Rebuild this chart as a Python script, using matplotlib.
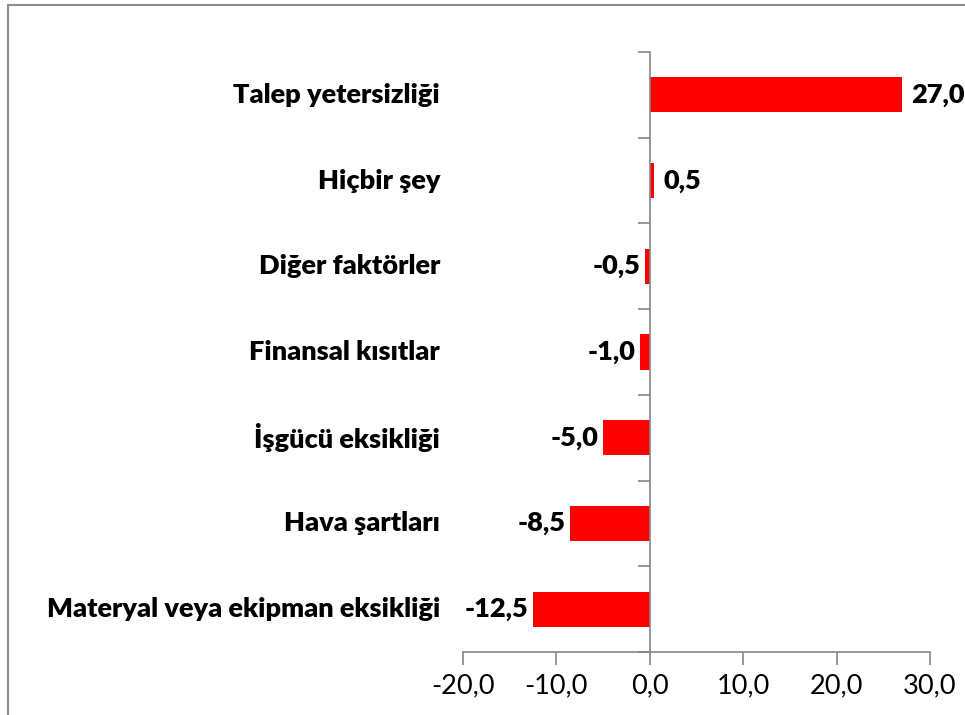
import numpy as np
import matplotlib
matplotlib.use('Agg')
import matplotlib.pyplot as plt
import matplotlib.transforms as mtransforms
from matplotlib.patches import Rectangle

plt.rcParams['font.family'] = ['Lato', 'DejaVu Sans']

categories = ['Talep yetersizliği', 'Hiçbir şey', 'Diğer faktörler',
              'Finansal kısıtlar', 'İşgücü eksikliği', 'Hava şartları',
              'Materyal veya ekipman eksikliği']
values = [27.0, 0.5, -0.5, -1.0, -5.0, -8.5, -12.5]
xticks = [-20, -10, 0, 10, 20, 30]

W, H = 965, 715
fig = plt.figure(figsize=(W / 100, H / 100), dpi=100)
ax = fig.add_axes([463 / W, 1 - 652 / H, (930 - 463) / W, 600 / H])

# outer chart border (runs off the right and bottom edges)
fig.patches.append(Rectangle((8 / W, -0.05), 1.2, 1 - 5 / H + 0.05,
                             transform=fig.transFigure, fill=False,
                             ec='#8c8c8c', lw=1.5))

n = len(categories)
y = np.arange(n)[::-1]
ax.barh(y, values, height=0.41, color='#ff0000', zorder=2)

ax.set_xlim(-20, 30)
ax.set_ylim(-0.5, n - 0.5)
ax.set_xticks(xticks)
ax.set_xticklabels([('%.1f' % t).replace('.', ',') for t in xticks])
ax.tick_params(axis='x', direction='out', length=9, width=1.2, color='#868686',
               labelsize=19.5, pad=6)

ax.spines['top'].set_visible(False)
ax.spines['right'].set_visible(False)
ax.spines['left'].set_position(('data', 0))
for s in ['left', 'bottom']:
    ax.spines[s].set_color('#868686')
    ax.spines[s].set_linewidth(1.2)

ax.set_yticks(np.arange(n + 1) - 0.5)
ax.set_yticklabels([])
ax.tick_params(axis='y', direction='out', length=9, width=1.2, color='#868686')

lab_trans = (mtransforms.blended_transform_factory(ax.transAxes, ax.transData)
             + mtransforms.ScaledTranslation(-23 / 100, 0, fig.dpi_scale_trans))
for yi, lab in zip(y, categories):
    ax.text(0, yi, lab, transform=lab_trans, ha='right', va='center',
            fontsize=19.5, fontweight='heavy')

for yi, v in zip(y, values):
    txt = ('%.1f' % v).replace('.', ',')
    if v >= 0:
        off, ha = 9 / 100, 'left'
    else:
        off, ha = -5 / 100, 'right'
    ax.text(v, yi, txt, ha=ha, va='center', fontsize=19.5, fontweight='heavy',
            transform=ax.transData + mtransforms.ScaledTranslation(off, 0, fig.dpi_scale_trans))

fig.savefig('out.png', dpi=100)
